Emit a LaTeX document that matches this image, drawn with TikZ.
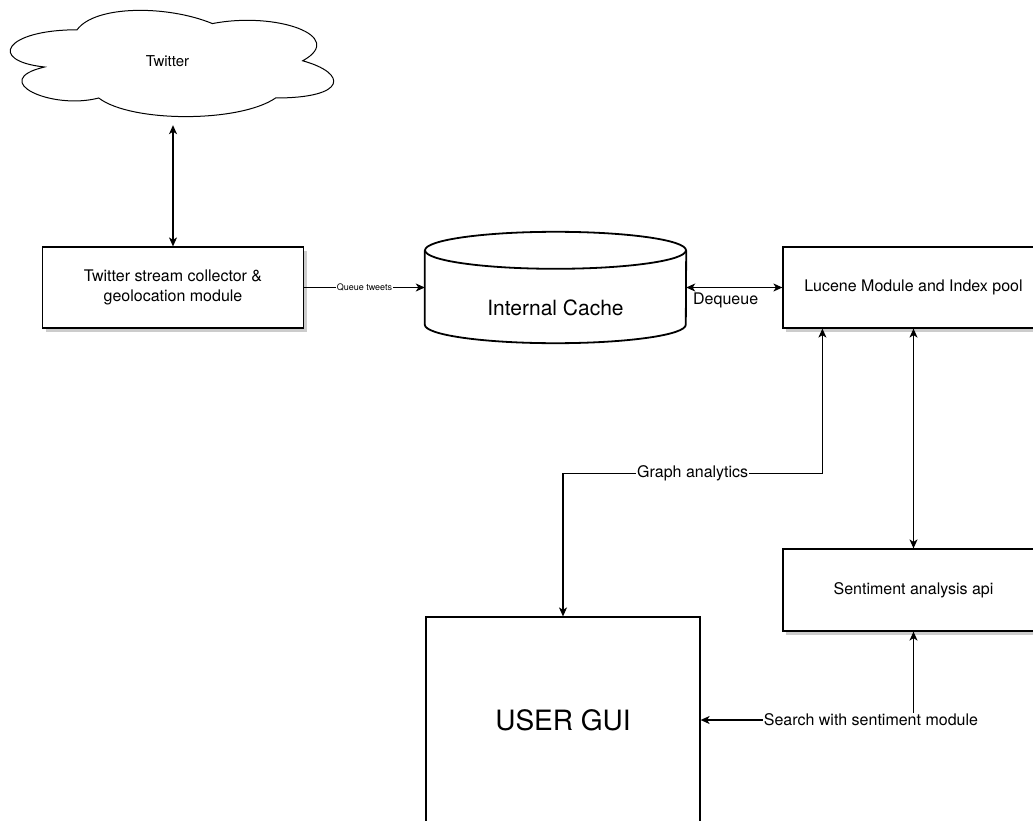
\documentclass[tikz,border=0pt]{standalone}
\usepackage{fontspec}
\setmainfont{TeX Gyre Heros}
\usetikzlibrary{arrows.meta,shadows}
\tikzset{>={Stealth[length=9pt,width=8pt,inset=2.5pt]}}
\colorlet{shade}{gray!40}
\newcommand{\fsz}[2]{\fontsize{#1}{#2}\selectfont}
\tikzset{
  block/.style = {draw, line width=1.2pt, fill=white, align=center,
    minimum width=261pt, minimum height=81pt, font=\fsz{16}{20},
    drop shadow={shadow xshift=3pt, shadow yshift=-4pt, fill=shade, opacity=1}},
  screen/.style = {draw, line width=1.2pt, fill=white,
    minimum width=274pt, minimum height=206pt, font=\fsz{28}{34}},
  cyl/.style = {line width=1.8pt},
  link/.style = {line width=1.2pt},
  tag/.style = {fill=white, inner sep=1pt, font=\fsz{16}{20}}
}

\begin{document}
\begin{tikzpicture}[x=1pt,y=-1pt]
  \useasboundingbox (0,0) rectangle (1033,821);
  % cloud
  \node[minimum width=361pt, minimum height=124pt, font=\fsz{15}{18}] (twitter) at (167.5,61) {Twitter};
  \begin{scope}[shift={(twitter.north west)}, x=361pt, y=-124pt]
    \draw[line width=1pt] (.25,.25) .. controls (.05,.25) and (0,.5) .. (.16,.55)
      .. controls (0,.66) and (.18,.9) .. (.31,.8)
      .. controls (.4,1) and (.7,1) .. (.8,.8)
      .. controls (1,.8) and (1,.6) .. (.875,.5)
      .. controls (1,.3) and (.8,.1) .. (.625,.2)
      .. controls (.5,.05) and (.3,.05) .. (.25,.25) -- cycle;
  \end{scope}

  \node[block] (collector) at (173,287.5) {Twitter stream collector \&\\geolocation module};
  \node[block] (lucene) at (913.5,287.5) {Lucene Module and Index pool};
  \node[block, minimum height=82pt] (senti) at (913.5,590) {Sentiment analysis api};
  \node[screen] (gui) at (563,720) {USER GUI};

  % cylinder
  \node[minimum width=261pt, minimum height=111pt,
    label={[font=\fsz{21}{26}, yshift=-20.5pt]center:Internal Cache}] (cache) at (555.5,287.5) {};
  \draw[cyl] ([yshift=-18.5pt]cache.north) ellipse [x radius=130.5pt, y radius=18.5pt];
  \draw[cyl] ([yshift=-18.5pt]cache.north west) -- ([yshift=18.5pt]cache.south west)
    arc[start angle=180, end angle=360, x radius=130.5pt, y radius=18.5pt]
    -- ([yshift=-18.5pt]cache.north east);

  \draw[link,<->] (collector.north) -- ([yshift=-2pt]collector.north |- twitter.south);
  \draw[link,->] (collector) -- node[tag, font=\fsz{9}{11}] {Queue tweets} (cache);
  \draw[link,<->] (cache) -- node[tag, fill=none, pos=.41, anchor=north, yshift=-4pt] {Dequeue} (lucene);
  \draw[link,<->] ([xshift=40pt]lucene.south west) -- ++(0,145)
    -| node[tag, pos=.25] {Graph analytics} (gui.north);
  \draw[link,<->] (lucene) -- (senti);
  \draw[link,<->] (senti.south) |- node[tag, pos=.6] {Search with sentiment module} (gui.east);
\end{tikzpicture}
\end{document}
